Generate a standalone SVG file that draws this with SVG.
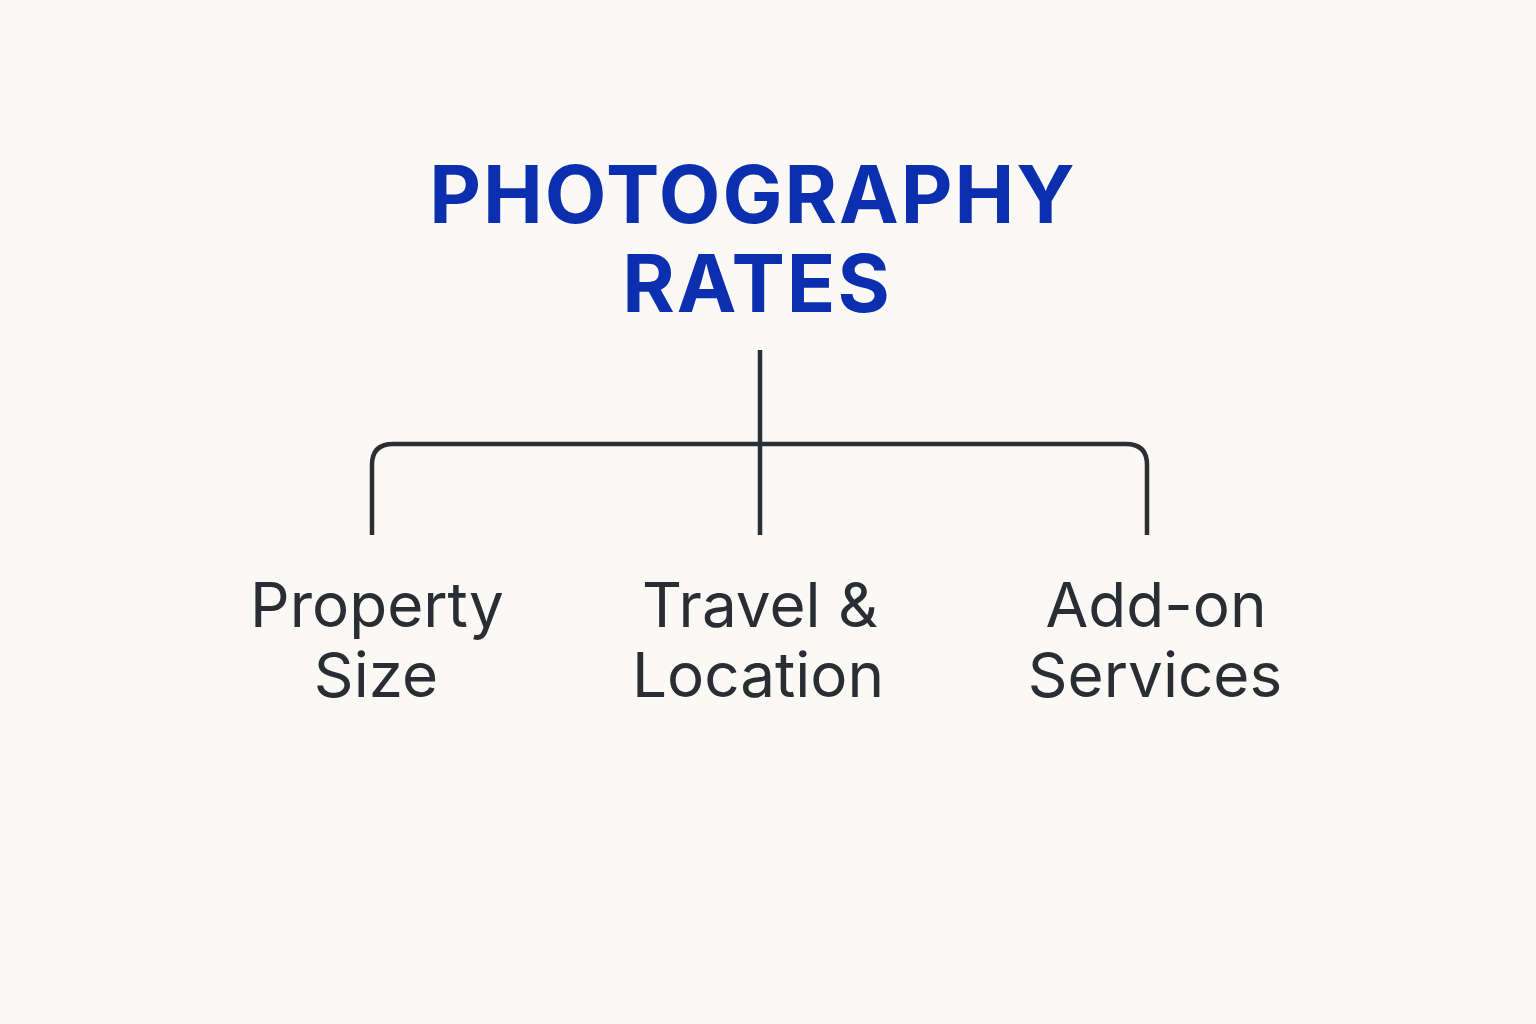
<svg xmlns="http://www.w3.org/2000/svg" width="1536" height="1024" viewBox="0 0 1536 1024">
<style>
.title{font-family:Inter,"Liberation Sans",sans-serif;font-weight:700;font-size:80px;fill:#0b2fae;text-anchor:middle;letter-spacing:2px}
.label{font-family:Inter,"Liberation Sans",sans-serif;font-weight:400;font-size:62px;fill:#2a2d33;text-anchor:middle}
.conn{fill:none;stroke:#2b2e33;stroke-width:4.5}
</style>
<rect width="1536" height="1024" fill="#faf9f6"/>
<g id="title">
<text class="title" x="753" y="223">PHOTOGRAPHY</text>
<text class="title" x="757" y="312">RATES</text>
</g>
<g id="connectors">
<line class="conn" x1="760" y1="350" x2="760" y2="535"/>
<path class="conn" d="M372 535 V465 Q372 444 393 444 H1126 Q1147 444 1147 465 V535"/>
</g>
<g id="property-size">
<text class="label" x="377" y="627">Property</text>
<text class="label" x="376" y="697">Size</text>
</g>
<g id="travel-location">
<text class="label" x="760" y="627">Travel &amp;</text>
<text class="label" x="758" y="697">Location</text>
</g>
<g id="add-on-services">
<text class="label" x="1156" y="627">Add-on</text>
<text class="label" x="1155" y="697">Services</text>
</g>
</svg>
